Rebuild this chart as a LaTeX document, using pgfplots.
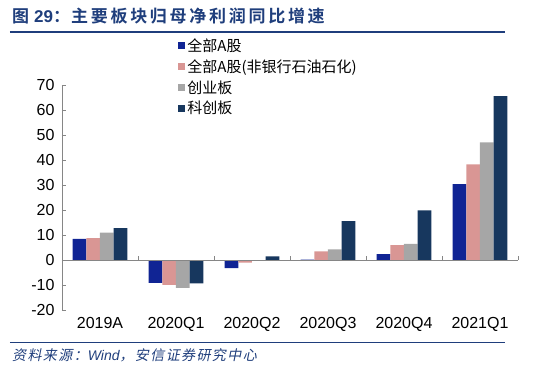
\documentclass[border=0pt]{standalone}
\usepackage{pgfplots}
\pgfplotsset{compat=1.18}
\usepackage{fontspec}
\setmainfont{Liberation Sans}
\newfontfamily\cjk{Noto Sans CJK SC}
\newfontfamily\cjktitle{Noto Sans CJK SC Bold}[LetterSpace=16]
\newfontfamily\cjkit{Noto Sans CJK SC}[FakeSlant=0.2,LetterSpace=10]
\newfontfamily\arialb{Liberation Sans Bold}
\newfontfamily\ariali{Liberation Sans Italic}
\definecolor{cBlue}{RGB}{16,36,148}
\definecolor{cPink}{RGB}{217,150,148}
\definecolor{cGray}{RGB}{166,166,166}
\definecolor{cNavy}{RGB}{23,55,94}
\definecolor{cTitle}{RGB}{31,62,124}
\definecolor{cAxis}{RGB}{134,134,134}
\begin{document}
\begin{tikzpicture}
\useasboundingbox (-62pt,-63pt) rectangle (488pt,310pt);
\begin{axis}[
  at={(0pt,0pt)}, anchor=south west,
  scale only axis, width=456pt, height=225pt,
  xmin=-0.5, xmax=5.5, ymin=-20, ymax=70,
  ybar=0pt, bar width=13.7pt,
  axis y line=left, axis x line=bottom,
  axis line style={-, draw=cAxis, line width=0.8pt},
  x axis line style={draw=none},
  xtick={0,1,2,3,4,5},
  xticklabels={2019A,2020Q1,2020Q2,2020Q3,2020Q4,2021Q1},
  major x tick style={draw=none},
  ytick={-20,-10,0,10,20,30,40,50,60,70},
  y tick style={draw=cAxis, line width=0.8pt},
  tick align=inside, major tick length=4pt,
  /pgf/number format/assume math mode=true,
  tick label style={font=\fontsize{16}{16}\selectfont, text=black},
  xticklabel style={yshift=-4pt},
  yticklabel style={xshift=-4pt},
  legend style={at={(0.255,1.215)}, anchor=north west, draw=none, fill=none,
    font=\cjk\fontsize{15}{15}\selectfont, row sep=2.6pt,
    legend cell align=left, inner sep=0pt},
  legend image code/.code={\fill[#1] (0pt,-3.5pt) rectangle (7pt,3.5pt);},
  clip=false,
]
\addplot[fill=cBlue, draw=none] coordinates {(0,8.5) (1,-9.1) (2,-3.2) (3,0.2) (4,2.4) (5,30.4)};
\addplot[fill=cPink, draw=none] coordinates {(0,8.8) (1,-9.9) (2,-1.0) (3,3.5) (4,6.0) (5,38.3)};
\addplot[fill=cGray, draw=none] coordinates {(0,11.0) (1,-11.1) (2,-0.3) (3,4.3) (4,6.5) (5,47.1)};
\addplot[fill=cNavy, draw=none] coordinates {(0,12.8) (1,-9.3) (2,1.5) (3,15.6) (4,19.9) (5,65.6)};
\legend{全部A股,全部A股(非银行石油石化),创业板,科创板}
\draw[cAxis, line width=0.8pt] (axis cs:-0.5,0) -- (axis cs:5.5,0);
\draw[cAxis, line width=0.8pt] (axis cs:0.5,0) -- ++(0pt,4pt);
\draw[cAxis, line width=0.8pt] (axis cs:1.5,0) -- ++(0pt,4pt);
\draw[cAxis, line width=0.8pt] (axis cs:2.5,0) -- ++(0pt,4pt);
\draw[cAxis, line width=0.8pt] (axis cs:3.5,0) -- ++(0pt,4pt);
\draw[cAxis, line width=0.8pt] (axis cs:4.5,0) -- ++(0pt,4pt);
\draw[cAxis, line width=0.8pt] (axis cs:5.5,0) -- ++(0pt,4pt);
\end{axis}
\node[anchor=base west, inner sep=0pt, text=cTitle] at (-50pt,288pt)
  {\cjktitle\fontsize{17}{17}\selectfont 图\hspace{5pt}{\arialb 29}：\hspace{1pt}主要板块归母净利润同比增速};
\draw[cTitle, line width=1.5pt] (-52pt,278pt) -- (443pt,278pt);
\draw[cTitle, line width=0.8pt] (-52pt,-32pt) -- (443pt,-32pt);
\node[anchor=west, inner sep=0pt, text=cTitle] at (-50pt,-45pt)
  {\cjkit\fontsize{14}{14}\selectfont 资料来源：{\ariali Wind}，安信证券研究中心};
\end{tikzpicture}
\end{document}
